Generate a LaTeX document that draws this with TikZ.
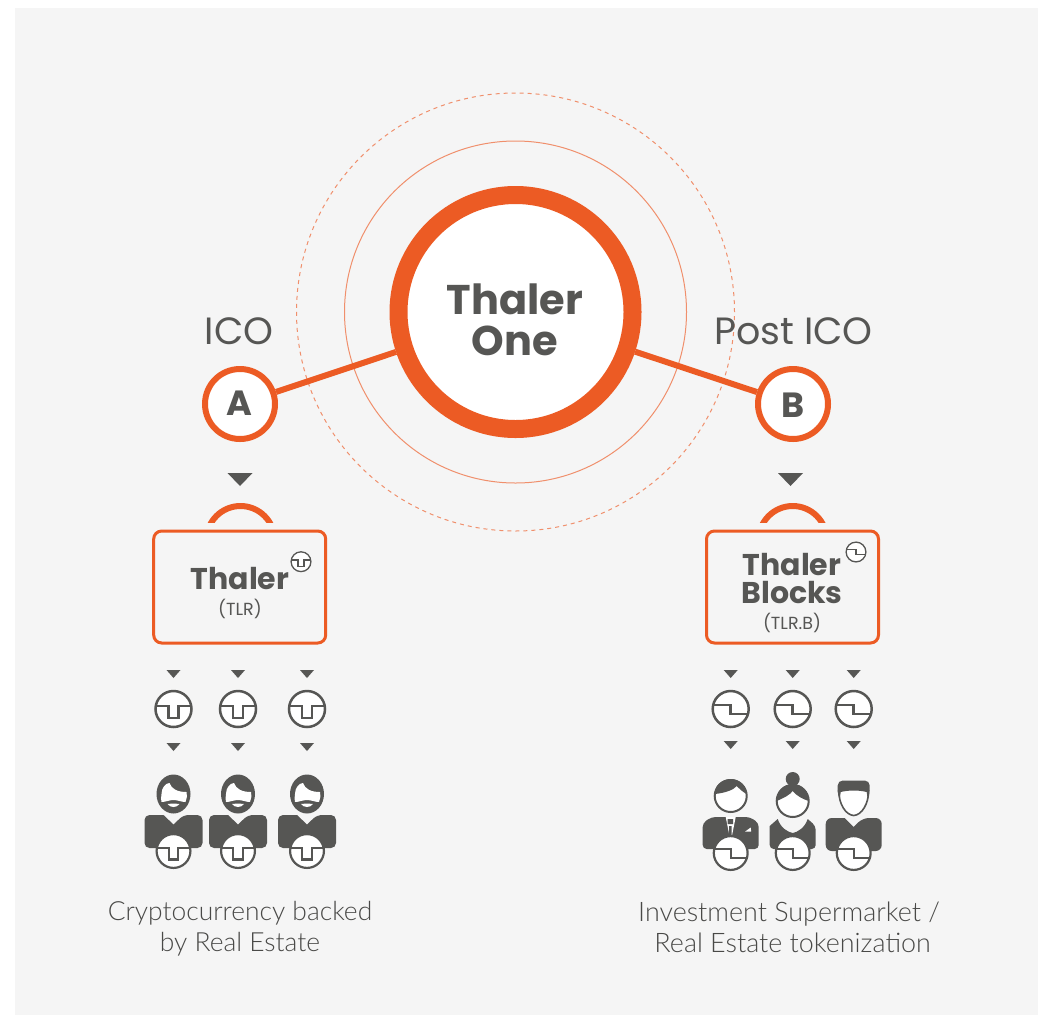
\documentclass[tikz,border=0pt]{standalone}
\usepackage{fontspec}
\newfontfamily\headf{Poppins}
\newfontfamily\capf{Lato Light}
\definecolor{panel}{HTML}{F5F5F5}
\definecolor{gd}{HTML}{565654}
\definecolor{org}{HTML}{EC5B24}
\definecolor{lorg}{HTML}{F08F6C}
\tikzset{
  coinline/.style={line width=2.5pt},
  ring/.style={draw=org,fill=white,circle,inner sep=0pt},
  rhead/.style={font=\headf\fontsize{41.5}{41}\selectfont\bfseries,text=gd,align=center},
  rtag/.style={font=\headf\fontsize{38}{38}\selectfont,text=gd},
  rcap/.style={font=\capf\fontsize{26.4}{31}\selectfont,text=gd!85!black,align=center},
  rbox/.style={draw=org,line width=3pt,rounded corners=8pt,fill=panel,minimum width=172pt,minimum height=112pt,inner sep=0pt},
  link/.style={draw=org,line width=6pt},
  tri/.pic={\fill[gd] (-7,-4) -- (7,-4) -- (0,4) -- cycle;},
  bigtri/.pic={\fill[gd] (-12.5,-6.5) -- (12.5,-6.5) -- (0,6.5) -- cycle;},
  handle/.pic={\begin{scope}
      \clip (-45,-40) rectangle (45,-17.5);
      \draw[org,line width=6pt] (0,0) circle[radius=34];
    \end{scope}},
  coinT/.pic={
    \fill[white] (0,0) circle[radius=18];
    \draw[gd,coinline] (0,0) circle[radius=18];
    \draw[gd,coinline] (-18,-3) -- (-5.2,-3) -- (-5.2,9) -- (5.2,9) -- (5.2,-3) -- (18,-3);},
  coinB/.pic={
    \fill[white] (0,0) circle[radius=18];
    \draw[gd,coinline] (0,0) circle[radius=18];
    \draw[gd,coinline] (-18,-4) -- (0,-4) -- (0,5) -- (18,5);},
  beard/.pic={
    \fill[gd] (0,0) ellipse[x radius=17,y radius=19.5];
    \fill[white] (-12,0) .. controls (-12,-6) and (-8,-11) .. (-4,-11)
      .. controls (-2,-5) and (4,-2) .. (13,-2)
      .. controls (13.5,2) and (13.5,5) .. (12,8)
      .. controls (8,8) and (4,6) .. (0,6) .. controls (-4,6) and (-8,8) .. (-12,8)
      .. controls (-12.5,5) .. cycle;
    \fill[white] (-6,10) .. controls (-2,9.5) and (2,9.5) .. (6,10) .. controls (3,14) and (-3,14) .. (-6,10) -- cycle;
    \fill[gd] (-10,21) [rounded corners=5pt] -- (-29,21) -- (-29,54) -- (29,54) -- (29,21) -- (10,21) [sharp corners] -- (0,30.5) -- cycle;
    \pic[coinline/.style={line width=2.2pt},scale=.94] at (0,57) {coinT};},
  suit/.pic={
    \fill[gd] [rounded corners=4pt] (-5,21) -- (-19,21) -- (-28,27) -- (-28,53) -- (28,53) -- (28,27) -- (19,21) -- (5,21) [sharp corners] -- cycle;
    \fill[white] (-5,21) -- (5,21) -- (1,41) -- (-1,41) -- cycle;
    \fill[gd] (-3,23) rectangle (2.5,28) (-1.5,30) rectangle (1,40);
    \fill[white] (14.5,35.5) -- (20,31.5) -- (20.5,35.5) -- cycle;
    \fill[white] (0,0) circle[radius=16];
    \draw[gd,line width=2pt] (0,0) circle[radius=16];
    \fill[gd] (-16,-2) .. controls (-16,-11) and (-8,-17) .. (0,-17) .. controls (8,-17) and (16,-11) .. (16,-2)
      .. controls (12,-4) and (9,-7) .. (6,-10) .. controls (3,-6) and (-6,-3) .. (-16,-2) -- cycle;
    \pic[coinline/.style={line width=2.2pt},scale=.94] at (0,57) {coinB};},
  lady/.pic={
    \fill[gd] (0,-17) circle[radius=7];
    \fill[gd] (-23,30) [rounded corners=4pt] -- (-23,53) -- (23,53) -- (23,30) [sharp corners] -- (15,23)
      .. controls (12,32) and (5,36) .. (0,37) .. controls (-5,36) and (-12,32) .. (-15,23) -- cycle;
    \fill[white] (0,5) circle[radius=16];
    \draw[gd,line width=2pt] (0,5) circle[radius=16];
    \fill[gd] (-16,5) .. controls (-16,-5) and (-9,-12) .. (0,-12) .. controls (9,-12) and (16,-5) .. (16,5)
      .. controls (10,3) and (4,0) .. (0,-5) .. controls (-3,-1) and (-9,2) .. (-16,5) -- cycle;
    \pic[coinline/.style={line width=2.2pt},scale=.94] at (0,57) {coinB};},
  manB/.pic={
    \fill[gd] (-9,22) [rounded corners=6pt] -- (-28,22) -- (-28,55) -- (28,55) -- (28,22) -- (9,22) [sharp corners] -- (0,31) -- cycle;
    \fill[white] (-15,-6) -- (15,-6) .. controls (15,8) and (8,19) .. (0,19.5) .. controls (-8,19) and (-15,8) .. (-15,-6) -- cycle;
    \draw[gd,line width=1.6pt] (-15,-6) .. controls (-15,8) and (-8,19) .. (0,19.5) .. controls (8,19) and (15,8) .. (15,-6);
    \fill[gd] [rounded corners=5pt] (-16,-4) -- (-16,-15.5) -- (16,-15.5) -- (16,-4) [sharp corners] -- (14,3) -- (13,-4) .. controls (5,-6) and (-5,-6) .. (-13,-4) -- (-14,3) -- cycle;
    \pic[coinline/.style={line width=2.2pt},scale=.94] at (0,57) {coinB};}
}
\begin{document}
\begin{tikzpicture}[x=1pt,y=-1pt]
\useasboundingbox (0,0) rectangle (1043,1015);
\fill[panel] (15,8) rectangle (1038,1015);
% rings
\node[circle,draw=lorg,line width=1pt,dashed,dash pattern=on 4pt off 4pt,minimum size=438pt,inner sep=0pt] (rdash) at (515.5,312) {};
\node[circle,draw=lorg,line width=1pt,minimum size=342pt,inner sep=0pt] (rthin) at (515.5,312) {};
% hubs
\node[ring,line width=18pt,minimum size=234pt] (main) at (515.5,312) {};
\node[ring,line width=6pt,minimum size=70pt] (a) at (240,404) {};
\node[ring,line width=6pt,minimum size=70pt] (b) at (793,404) {};
\draw[link] (a) -- (main);
\draw[link] (b) -- (main);
\node[rhead] (maint) at (515,320) {Thaler\\One};
\node[font=\headf\fontsize{35}{35}\selectfont\bfseries,text=gd] (at) at (239,403) {A};
\node[font=\headf\fontsize{35}{35}\selectfont\bfseries,text=gd] (bt) at (793,405) {B};
\node[rtag] (ico) at (239,331) {ICO};
\node[rtag] (post) at (793.5,331) {Post ICO};
% left column
\pic at (240,479.5) {bigtri};
\pic at (240.5,540) {handle};
\node[rbox] (boxa) at (239.7,587) {};
\node[font=\headf\fontsize{30}{30}\selectfont\bfseries,text=gd] (tha) at (240,579) {Thaler};
\node[font=\headf\fontsize{17.5}{17.5}\selectfont,text=gd] (tlr) at (240,609) {(TLR)};
\pic[coinline/.style={line width=1.3pt},scale=.55] at (301,561.7) {coinT};
\foreach \x/\n in {173.5/1,238/2,307/3}{
  \pic at (\x,674) {tri};
  \pic at (\x,747) {tri};
  \pic at (\x,709) {coinT};
  \pic at (\x,794) {beard};
}
% right column
\pic at (790.5,479.5) {bigtri};
\pic at (792.7,540) {handle};
\node[rbox] (boxb) at (792.5,587) {};
\node[font=\headf\fontsize{30}{28}\selectfont\bfseries,text=gd,align=center] (thb) at (792,578.5) {Thaler\\Blocks};
\node[font=\headf\fontsize{17.5}{17.5}\selectfont,text=gd] (tlrb) at (792,623) {(TLR.B)};
\pic[coinline/.style={line width=1.3pt},scale=.55] at (856,552) {coinB};
\foreach \x in {730.7,792.7,853.7}{
  \pic at (\x,674) {tri};
  \pic at (\x,745) {tri};
  \pic at (\x,709) {coinB};
}
\pic at (730.7,796) {suit};
\pic at (792.7,796) {lady};
\pic at (853.7,796) {manB};
% captions
\node[rcap] (capa) at (240,929) {Cryptocurrency backed\\by Real Estate};
\node[rcap,font=\capf\fontsize{26.9}{31}\selectfont] (capb) at (789,927) {Investment Supermarket /\\\ Real Estate tokenization};
\end{tikzpicture}
\end{document}
